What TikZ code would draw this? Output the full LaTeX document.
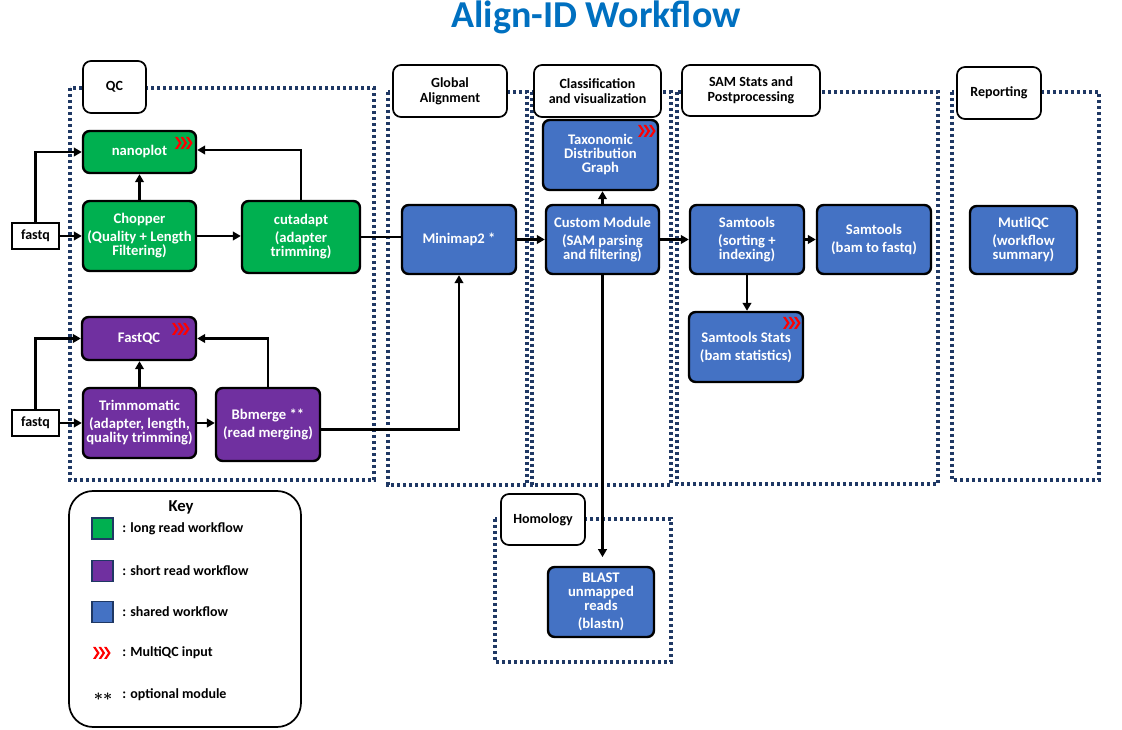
\documentclass[tikz,border=0pt]{standalone}
\usepackage{fontspec}
\setmainfont{Carlito}
\usetikzlibrary{arrows.meta}
\definecolor{lgreen}{HTML}{00B050}
\definecolor{spurple}{HTML}{7030A0}
\definecolor{shblue}{HTML}{4472C4}
\definecolor{navy}{HTML}{1F3864}
\definecolor{ttl}{HTML}{0070C0}
\tikzset{
 proc/.style={draw=black, line width=1.8pt, rounded corners=5pt, text=white, font=\bfseries\fontsize{11}{10.5}\selectfont, align=center, inner sep=1pt},
 lab/.style={draw=black, line width=1.3pt, rounded corners=6pt, fill=white, font=\bfseries\fontsize{10.5}{11.5}\selectfont, align=center, inner sep=1pt},
 fq/.style={draw=black, line width=0.8pt, fill=white, font=\bfseries\fontsize{10.5}{11}\selectfont, inner sep=1pt},
 region/.style={draw=navy, line width=2.4pt, dash pattern=on 2.3pt off 2.2pt},
 arr/.style={line width=2.2pt, -{Triangle[length=6pt,width=6.5pt]}},
 link/.style={line width=2.2pt},
 keysq/.style={draw=navy, line width=1.2pt, minimum width=15.75pt, minimum height=15.75pt, inner sep=0pt},
 keytxt/.style={anchor=west, font=\bfseries\fontsize{10.5}{12}\selectfont, inner sep=0pt},
}
\newcommand\mqcmark[2]{%
 \begin{scope}[shift={(#1,#2)}]
 \foreach \d in {0,5.5,11}{\fill[red] (\d,-6) -- (\d+2.6,-6) -- (\d+6.6,0) -- (\d+2.6,6) -- (\d,6) -- (\d+4,0) -- cycle;}
 \end{scope}}
\begin{document}
\begin{tikzpicture}[x=0.75pt,y=-0.75pt]
\useasboundingbox (0,0) rectangle (1122,730);
\fill[white] (0,0) rectangle (1122,730);

% title
\node[font=\bfseries\fontsize{28.5}{30}\selectfont, text=ttl] (title) at (596,17) {Align-ID Workflow};

% regions
\draw[region] (70,88) rectangle (374,480);
\draw[region] (388,92) rectangle (527,485);
\draw[region] (532,92) rectangle (671,485);
\draw[region] (677,92) rectangle (938,484);
\draw[region] (952,92) rectangle (1099,480);
\draw[region] (495,519) rectangle (671,662);

% region labels
\node[lab, minimum width=47.25pt, minimum height=39pt] (lqc) at (114.5,87) {QC};
\node[lab, minimum width=85.5pt, minimum height=39pt] (lga) at (450,91) {Global\\Alignment};
\node[lab, minimum width=95.25pt, minimum height=39pt] (lcv) at (597.5,91) {Classification\\and visualization};
\node[lab, minimum width=103.5pt, minimum height=38.25pt] (lsam) at (751,90.5) {SAM Stats and\\Postprocessing};
\node[lab, minimum width=63pt, minimum height=39pt] (lrep) at (999,93) {Reporting};
\node[lab, minimum width=63pt, minimum height=38.25pt] (lhom) at (543,519.5) {Homology};

% long read
\node[proc, fill=lgreen, minimum width=84.75pt, minimum height=31.5pt] (nano) at (139.5,152) {nanoplot};
\node[proc, fill=lgreen, minimum width=84.75pt, minimum height=52.5pt] (chop) at (139.5,236) {Chopper\\[3pt](Quality + Length\\Filtering)};
\node[proc, fill=lgreen, minimum width=88.5pt, minimum height=54pt] (cut) at (301,237) {cutadapt\\[3pt](adapter\\trimming)};
\node[fq, minimum width=35.25pt, minimum height=19.5pt] (fq1) at (35.5,236) {fastq};

% short read
\node[proc, fill=spurple, minimum width=85.5pt, minimum height=32.25pt] (fqc) at (139,338.5) {FastQC};
\node[proc, fill=spurple, minimum width=84.75pt, minimum height=52.5pt] (trim) at (139.5,423) {Trimmomatic\\[3pt](adapter, length,\\quality trimming)};
\node[proc, fill=spurple, minimum width=78pt, minimum height=54.75pt] (bb) at (268,424.5) {Bbmerge **\\[3pt](read merging)};
\node[fq, minimum width=35.25pt, minimum height=19.5pt] (fq2) at (35.5,423) {fastq};

% shared
\node[proc, fill=shblue, minimum width=85.5pt, minimum height=51.75pt] (mm) at (459,239.5) {Minimap2 *};
\node[proc, fill=shblue, minimum width=86.25pt, minimum height=52.5pt] (tax) at (600.5,155) {Taxonomic\\Distribution\\Graph};
\node[proc, fill=shblue, minimum width=84.75pt, minimum height=51.75pt] (cm) at (602.5,239.5) {Custom Module\\[3pt](SAM parsing\\and filtering)};
\node[proc, fill=shblue, minimum width=85.5pt, minimum height=51.75pt] (ss) at (747,239.5) {Samtools\\[3pt](sorting +\\indexing)};
\node[proc, fill=shblue, minimum width=85.5pt, minimum height=51.75pt] (sf) at (874,239.5) {Samtools\\[3pt](bam to fastq)};
\node[proc, fill=shblue, minimum width=85.5pt, minimum height=52.5pt] (st) at (746,347) {Samtools Stats\\[3pt](bam statistics)};
\node[proc, fill=shblue, minimum width=80.25pt, minimum height=51pt] (mq) at (1023.5,240) {MutliQC\\[3pt](workflow\\summary)};
\node[proc, fill=shblue, minimum width=79.5pt, minimum height=52.5pt] (bl) at (601,602) {BLAST\\unmapped\\reads\\[3pt](blastn)};

% MultiQC input marks
\mqcmark{175}{143}
\mqcmark{172}{329}
\mqcmark{638}{131}
\mqcmark{783}{323}

% connectors long read
\draw[arr] (fq1) -- (chop);
\draw[arr] (fq1.north) |- (nano.west);
\draw[arr] (chop) -- (nano);
\draw[arr] (chop.east) -- (chop.east -| cut.west);
\draw[arr] (cut.north) |- ([yshift=1.5pt]nano.east);
\draw[link] (cut.east) -- (cut.east -| mm.west);

% connectors short read
\draw[arr] (fq2) -- (trim);
\draw[arr] (fq2.north) |- (fqc.west);
\draw[arr] (trim) -- (trim |- fqc.south);
\draw[arr] (trim.east) -- (trim.east -| bb.west);
\draw[arr] (bb.north) |- (fqc.east);
\draw[arr] ([yshift=-4pt]bb.east) -| (mm.south);

% shared connectors
\draw[arr] (mm) -- (cm);
\draw[arr] (cm.north) -- (cm.north |- tax.south);
\draw[arr] (cm) -- (ss);
\draw[arr] (ss) -- (sf);
\draw[arr] (ss.south) -- (ss.south |- st.north);
\draw[arr, shorten >=6.5pt] (cm.south) -- (cm.south |- bl.north);

% key
\draw[line width=1.3pt, rounded corners=18pt] (69,491) rectangle (301,727);
\node[font=\bfseries\fontsize{12.5}{14}\selectfont] (keyt) at (181,507) {Key};
\node[keysq, fill=lgreen] (k1) at (102.5,528.5) {};
\node[keytxt] (t1) at (122,528.5) {: long read workflow};
\node[keysq, fill=spurple] (k2) at (102.5,571) {};
\node[keytxt] (t2) at (122,571) {: short read workflow};
\node[keysq, fill=shblue] (k3) at (102.5,612) {};
\node[keytxt] (t3) at (122,612) {: shared workflow};
\mqcmark{93}{653}
\node[keytxt] (t4) at (122,653) {: MultiQC input};
\node[font={\fontsize{13}{14}\selectfont\mathversion{bold}}] (k5) at (103,697) {$\ast\ast$};
\node[keytxt] (t5) at (122,695) {: optional module};
\end{tikzpicture}
\end{document}
